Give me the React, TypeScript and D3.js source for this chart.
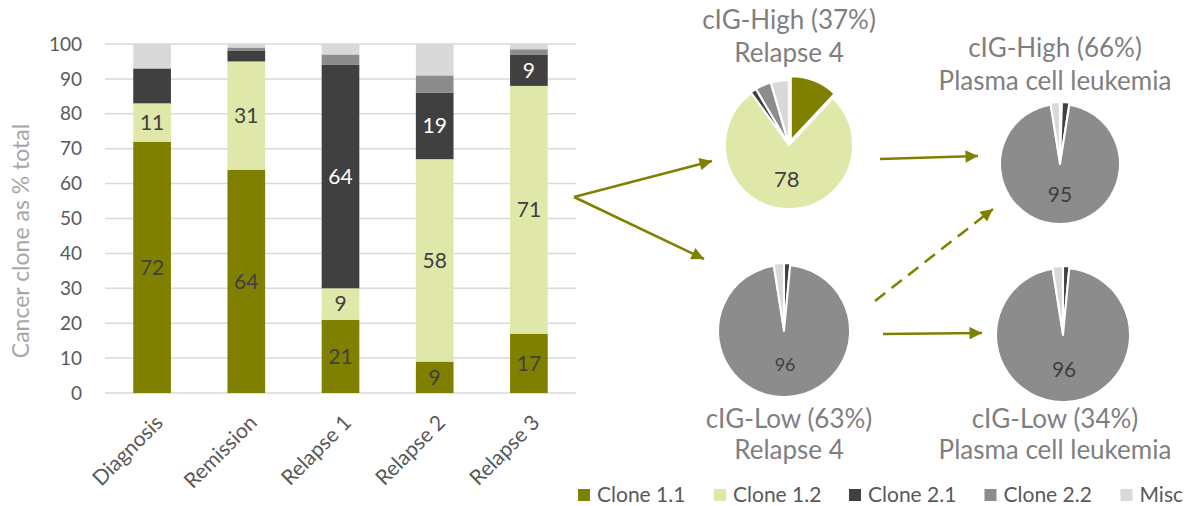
import React from "react";
import * as d3 from "d3";

const categories = ["Diagnosis", "Remission", "Relapse 1", "Relapse 2", "Relapse 3"];
const seriesNames = ["Clone 1.1", "Clone 1.2", "Clone 2.1", "Clone 2.2", "Misc"];
const seriesColors = ["#808000", "#dfe8a9", "#404040", "#8c8c8c", "#d9d9d9"];
const clone11 = [72, 64, 21, 9, 17];
const clone12 = [11, 31, 9, 58, 71];
const clone21 = [10, 3, 64, 19, 9];
const clone22 = [0, 1, 3, 5, 1.5];
const misc = [7, 1, 3, 9, 1.5];
const labels11 = ["72", "64", "21", "9", "17"];
const labels12 = ["11", "31", "9", "58", "71"];
const labels21 = ["", "", "64", "19", "9"];
const labels22 = ["", "", "", "", ""];
const labelsMisc = ["", "", "", "", ""];
const yTicks = [0, 10, 20, 30, 40, 50, 60, 70, 80, 90, 100];
const yTitle = "Cancer clone as % total";

const pieTitles = [
  ["cIG-High (37%)", "Relapse 4"],
  ["cIG-High (66%)", "Plasma cell leukemia"],
  ["cIG-Low (63%)", "Relapse 4"],
  ["cIG-Low (34%)", "Plasma cell leukemia"],
];
const pieHighRelapse4 = [12, 78, 1.5, 4, 4.5];
const pieHighPCL = [0, 0.5, 2, 95, 2.5];
const pieLowRelapse4 = [0, 0, 1.5, 96, 2.5];
const pieLowPCL = [0, 0, 1.5, 96, 2.5];
const pieLabels = ["78", "95", "96", "96"];

const FONT = "Lato, 'Noto Sans', sans-serif";
const OLIVE = "#808000";

const seriesValues = [clone11, clone12, clone21, clone22, misc];
const seriesLabels = [labels11, labels12, labels21, labels22, labelsMisc];

export default function App() {
  const W = 1188, H = 506;
  const plot = { left: 105, right: 576, top: 44, bottom: 393 };
  const x = d3.scaleBand().domain(categories).range([plot.left, plot.right]).paddingInner(0.6).paddingOuter(0.3);
  const y = d3.scaleLinear().domain([0, 100]).range([plot.bottom, plot.top]);

  const rows = categories.map((c, i) => {
    const o: any = { cat: c };
    seriesNames.forEach((s, k) => (o[s] = seriesValues[k][i]));
    return o;
  });
  const stack = d3.stack().keys(seriesNames)(rows as any);

  const pies = [
    { values: pieHighRelapse4, cx: 789, cy: 145, r: 64, explode: [5, 0, 1, 1, 1], fs: 22, tx: 789, ty: [29, 62] },
    { values: pieHighPCL, cx: 1060, cy: 163, r: 60, explode: [0, 0, 1, 1, 1], fs: 21, tx: 1055, ty: [57, 90] },
    { values: pieLowRelapse4, cx: 784, cy: 330, r: 66, explode: [0, 0, 1, 1, 1], fs: 18, tx: 789, ty: [428, 459] },
    { values: pieLowPCL, cx: 1063, cy: 334, r: 67, explode: [0, 0, 1, 1, 1], fs: 21, tx: 1055, ty: [428, 459] },
  ];
  const pieGen = d3.pie<number>().sort(null).value((d) => d);

  const arrows = [
    { x1: 574, y1: 197, x2: 712, y2: 161, dash: false },
    { x1: 574, y1: 197, x2: 704, y2: 259, dash: false },
    { x1: 880, y1: 159, x2: 978, y2: 156, dash: false },
    { x1: 875, y1: 301, x2: 993, y2: 209, dash: true },
    { x1: 883, y1: 334, x2: 982, y2: 333, dash: false },
  ];

  const legendX = [578, 714, 849, 984.5, 1120.5];

  return (
    <svg width={W} height={H} style={{ position: "absolute", left: 0, top: 0, background: "#fff" }} fontFamily={FONT}>
      <defs>
        <marker id="ah" viewBox="0 0 10 10" refX="10" refY="5" markerWidth="5.5" markerHeight="5" orient="auto" markerUnits="strokeWidth">
          <path d="M0,0 L10,5 L0,10 Z" fill={OLIVE} />
        </marker>
      </defs>
      {yTicks.map((t) => (
        <line key={t} x1={plot.left} x2={plot.right} y1={y(t)} y2={y(t)} stroke="#d9d9d9" strokeWidth={1.5} />
      ))}
      {yTicks.map((t) => (
        <text key={"yl" + t} x={82} y={y(t)} dy="0.35em" textAnchor="end" fontSize={19} fill="#595959">
          {t}
        </text>
      ))}
      <text transform={`translate(29,241) rotate(-90)`} textAnchor="middle" fontSize={23} fill="#a6a6a6">
        {yTitle}
      </text>
      {stack.map((layer, k) => (
        <g key={k}>
          {layer.map((d: any, i: number) => {
            const v = d[1] - d[0];
            if (v <= 0) return null;
            return (
              <rect key={i} x={x(categories[i])} width={x.bandwidth()} y={y(d[1])} height={y(d[0]) - y(d[1])} fill={seriesColors[k]} />
            );
          })}
        </g>
      ))}
      {stack.map((layer, k) => (
        <g key={"l" + k}>
          {layer.map((d: any, i: number) => {
            const lab = seriesLabels[k][i];
            if (!lab) return null;
            return (
              <text key={i} x={(x(categories[i]) as number) + x.bandwidth() / 2} y={y((d[0] + d[1]) / 2)} dy="0.35em" textAnchor="middle" fontSize={21} fill={k === 2 ? "#ffffff" : "#404040"}>
                {lab}
              </text>
            );
          })}
        </g>
      ))}
      {categories.map((c) => (
        <text key={c} transform={`translate(${(x(c) as number) + x.bandwidth() / 2 + 12},${plot.bottom + 31}) rotate(-45)`} textAnchor="end" fontSize={21} fill="#595959">
          {c}
        </text>
      ))}
      {arrows.map((a, i) => (
        <line key={i} x1={a.x1} y1={a.y1} x2={a.x2} y2={a.y2} stroke={OLIVE} strokeWidth={2.5} strokeDasharray={a.dash ? "13 8" : undefined} markerEnd="url(#ah)" />
      ))}
      {pies.map((p, pi) => {
        const arcs = pieGen(p.values);
        const arc = d3.arc<any>().innerRadius(0).outerRadius(p.r);
        const big = arcs.reduce((a, b) => (b.value > a.value ? b : a));
        const mid = (big.startAngle + big.endAngle) / 2;
        const lr = p.r * 0.53;
        return (
          <g key={pi}>
            {arcs.map((a, k) => {
              if (a.value <= 0) return null;
              const m = (a.startAngle + a.endAngle) / 2;
              const e = p.explode[k];
              return (
                <path key={k} d={arc(a) as string} transform={`translate(${p.cx + e * Math.sin(m)},${p.cy - e * Math.cos(m)})`} fill={seriesColors[k]} stroke="#fff" strokeWidth={2} strokeLinejoin="round" />
              );
            })}
            <text x={p.cx + lr * Math.sin(mid)} y={p.cy - lr * Math.cos(mid)} dy="0.35em" textAnchor="middle" fontSize={p.fs} fill="#404040">
              {pieLabels[pi]}
            </text>
            {pieTitles[pi].map((t, j) => (
              <text key={j} x={p.tx} y={p.ty[j]} textAnchor="middle" fontSize={26} fill="#7f7f7f">
                {t}
              </text>
            ))}
          </g>
        );
      })}
      {seriesNames.map((s, k) => (
        <g key={s}>
          <rect x={legendX[k]} y={489} width={12} height={12} fill={seriesColors[k]} />
          <text x={legendX[k] + 19} y={495} dy="0.35em" fontSize={21} fill="#595959">
            {s}
          </text>
        </g>
      ))}
    </svg>
  );
}
